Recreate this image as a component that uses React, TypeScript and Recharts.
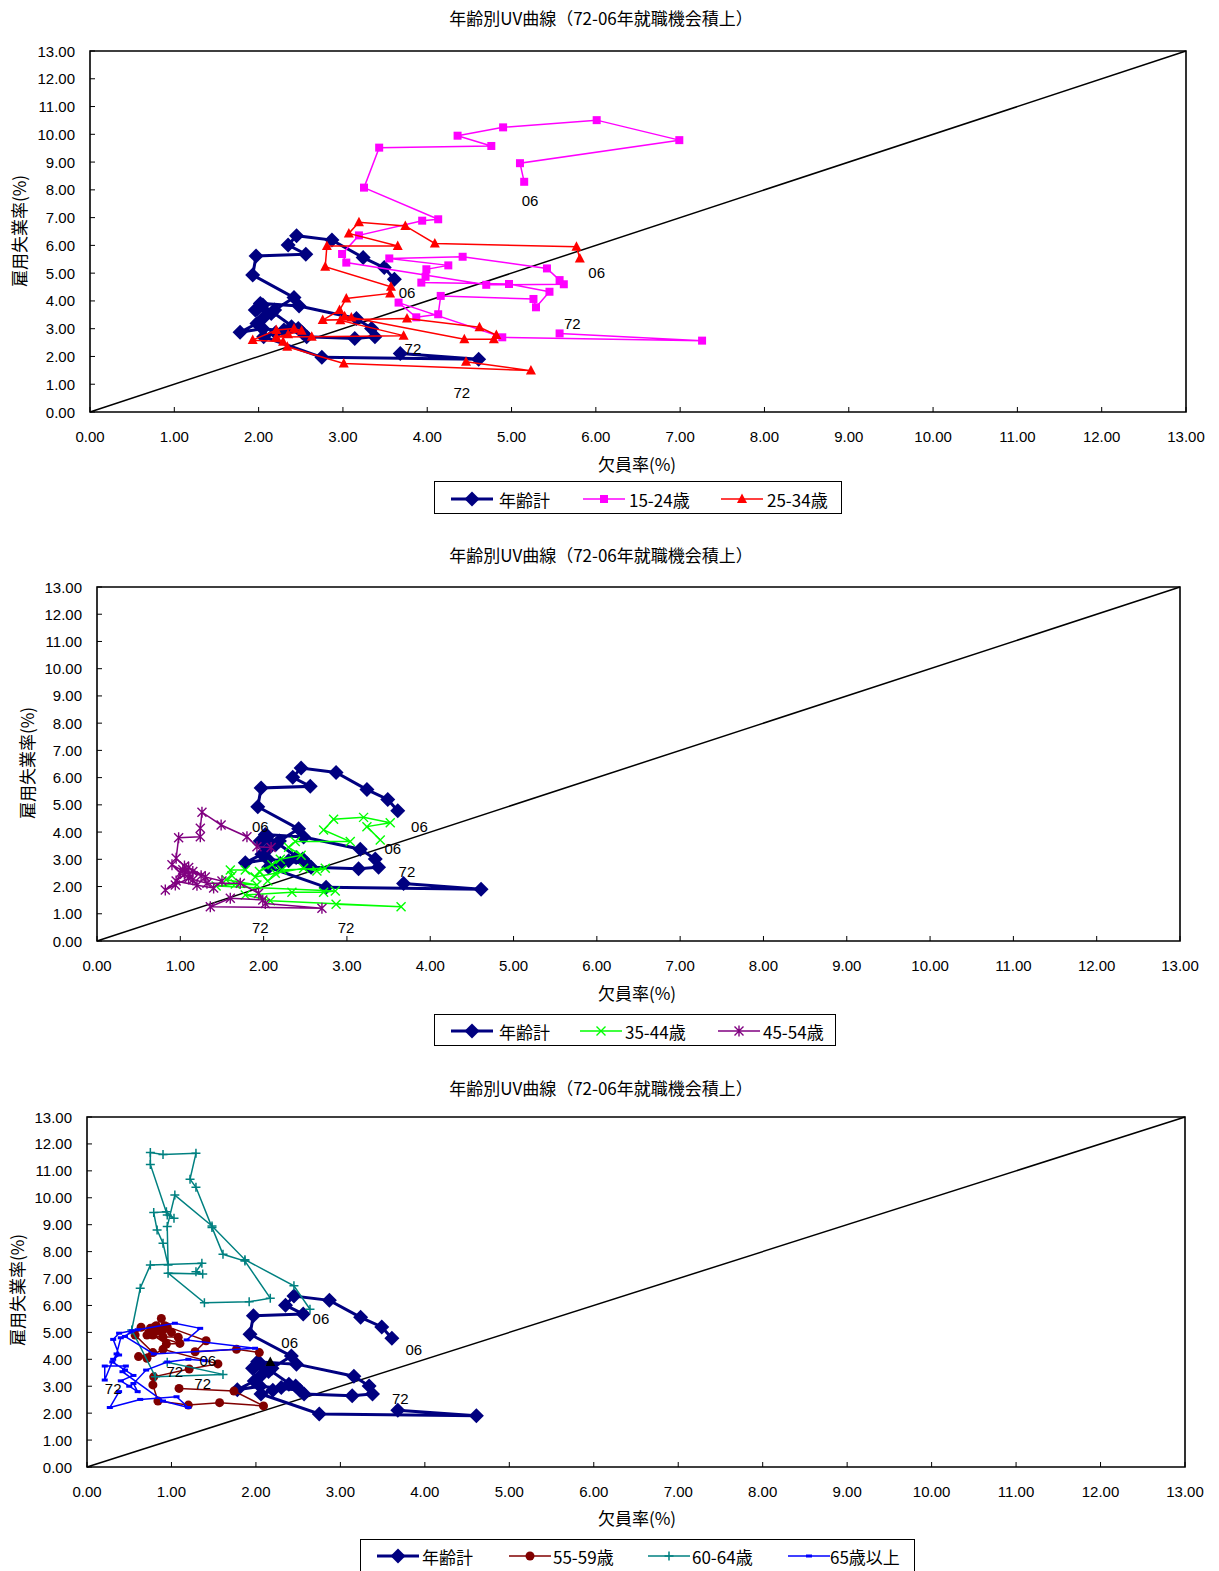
import React from 'react';
import { ScatterChart, Scatter, XAxis, YAxis, ReferenceLine, ReferenceArea } from 'recharts';

// ---------- text ----------
const TITLE = '年齢別UV曲線（72-06年就職機会積上）';
const X_TITLE = '欠員率(%)';
const Y_TITLE = '雇用失業率(%)';
const AXIS_TICKS = [0, 1, 2, 3, 4, 5, 6, 7, 8, 9, 10, 11, 12, 13];
const DIAG = [0, 13];

// ---------- data (x = 欠員率, y = 雇用失業率), 72 -> 06 ----------
const totalX = [3.68, 4.61, 2.75, 2.06, 2.2, 2.39, 2.47, 2.3, 2.52, 2.05, 1.78, 1.98, 2.06, 2.15, 1.98, 2.05, 2.57, 3.14, 3.38, 3.34, 3.16, 2.48, 2.02, 1.96, 2.19, 2.42, 1.93, 1.97, 2.56, 2.35, 2.45, 2.87, 3.24, 3.49, 3.61];
const totalY = [2.11, 1.9, 1.97, 2.71, 2.85, 3.07, 3.01, 2.95, 2.85, 3.0, 2.87, 3.19, 3.4, 3.55, 3.7, 3.85, 2.71, 2.65, 2.71, 3.01, 3.37, 3.82, 3.91, 3.67, 3.67, 4.12, 4.93, 5.62, 5.68, 6.01, 6.35, 6.19, 5.56, 5.2, 4.78];

const a1524X = [5.57, 7.26, 4.89, 3.66, 3.87, 4.13, 4.16, 5.26, 5.29, 5.45, 4.97, 3.93, 3.98, 3.99, 4.25, 3.55, 4.42, 5.42, 5.57, 5.62, 4.7, 3.04, 2.99, 3.19, 3.94, 4.13, 3.25, 3.43, 4.76, 4.36, 4.9, 6.01, 6.99, 5.1, 5.15];
const a1524Y = [2.83, 2.57, 2.69, 3.94, 3.41, 3.52, 4.18, 4.07, 3.77, 4.33, 4.61, 4.66, 4.87, 5.14, 5.28, 5.53, 5.59, 5.17, 4.75, 4.6, 4.58, 5.38, 5.69, 6.36, 6.89, 6.94, 8.08, 9.52, 9.58, 9.95, 10.25, 10.51, 9.79, 8.96, 8.29];

const a2534X = [4.46, 5.23, 3.01, 2.34, 2.29, 1.93, 2.21, 2.42, 2.51, 2.35, 2.21, 2.63, 3.72, 2.97, 3.02, 3.1, 4.44, 4.79, 4.82, 4.62, 3.76, 2.76, 2.96, 3.04, 3.56, 3.57, 2.79, 2.81, 3.65, 3.07, 3.19, 3.74, 4.09, 5.77, 5.81];
const a2534Y = [1.81, 1.49, 1.75, 2.35, 2.53, 2.59, 2.95, 3.01, 2.93, 2.8, 2.7, 2.71, 2.75, 3.3, 3.45, 3.4, 2.62, 2.62, 2.77, 3.05, 3.37, 3.31, 3.67, 4.09, 4.27, 4.51, 5.23, 5.98, 5.98, 6.43, 6.83, 6.7, 6.07, 5.95, 5.53];

const a3544X = [2.87, 3.65, 2.08, 1.78, 2.34, 2.72, 2.86, 1.43, 1.66, 1.92, 1.55, 1.62, 1.6, 1.78, 1.9, 2.14, 2.48, 2.64, 2.74, 2.22, 2.05, 1.95, 2.1, 2.2, 2.45, 2.3, 2.38, 3.04, 2.72, 2.84, 3.2, 3.52, 3.24, 3.4];
const a3544Y = [1.35, 1.26, 1.48, 1.69, 1.79, 1.79, 1.84, 2.02, 2.09, 2.06, 2.25, 2.4, 2.61, 2.61, 2.35, 2.49, 2.67, 2.57, 2.67, 2.61, 2.2, 2.55, 2.8, 3.0, 3.15, 3.44, 3.65, 3.65, 4.08, 4.47, 4.54, 4.34, 4.2, 3.71];

const a4554X = [2.02, 2.7, 1.36, 1.6, 1.99, 1.94, 1.72, 1.32, 1.1, 0.94, 0.82, 1.05, 1.15, 1.25, 1.03, 0.95, 1.2, 1.4, 1.5, 1.3, 1.1, 1.0, 0.9, 1.1, 1.15, 1.05, 0.95, 0.98, 1.24, 1.24, 1.26, 1.49, 1.8, 1.92, 2.09];
const a4554Y = [1.38, 1.2, 1.26, 1.57, 1.51, 1.75, 2.12, 2.12, 2.3, 2.06, 1.87, 2.45, 2.55, 2.4, 2.62, 2.2, 2.05, 1.95, 2.2, 2.35, 2.7, 2.5, 2.8, 2.45, 2.25, 2.75, 3.04, 3.79, 3.83, 4.14, 4.73, 4.26, 3.83, 3.46, 3.43];

const a5559X = [1.09, 1.74, 2.09, 1.57, 1.2, 0.84, 0.78, 0.79, 1.21, 1.55, 0.9, 0.71, 0.61, 0.78, 0.57, 0.64, 0.94, 1.1, 0.78, 0.71, 0.75, 0.82, 0.88, 0.95, 0.9, 0.9, 1.08, 1.0, 0.85, 0.8, 0.92, 1.41, 1.28, 1.77, 2.04];
const a5559Y = [2.92, 2.82, 2.27, 2.39, 2.3, 2.45, 3.05, 3.35, 3.64, 3.83, 4.37, 4.04, 4.1, 4.25, 4.9, 5.19, 4.57, 4.59, 4.9, 4.9, 5.15, 5.25, 5.52, 5.2, 5.1, 4.84, 4.82, 5.0, 5.05, 5.2, 5.25, 4.69, 4.28, 4.37, 4.25];

const a6064X = [0.95, 1.61, 0.81, 0.53, 0.63, 0.75, 1.36, 1.29, 1.37, 0.96, 1.39, 1.92, 2.17, 1.87, 1.61, 1.48, 1.29, 1.22, 1.29, 0.9, 0.75, 0.75, 0.95, 1.03, 0.94, 0.79, 0.83, 0.9, 0.96, 0.95, 1.04, 1.48, 1.87, 2.45, 2.64];
const a6064Y = [3.89, 3.44, 3.35, 5.09, 6.64, 7.5, 7.57, 7.25, 7.17, 7.2, 6.1, 6.14, 6.27, 7.65, 7.9, 8.9, 10.39, 10.69, 11.65, 11.61, 11.68, 11.24, 9.36, 9.24, 9.48, 9.45, 8.8, 8.31, 7.5, 8.93, 10.1, 8.95, 7.7, 6.73, 5.86];

const a65X = [0.38, 0.27, 0.63, 1.06, 1.2, 0.9, 0.42, 0.46, 0.21, 0.21, 0.31, 0.38, 0.31, 0.38, 0.53, 0.45, 0.79, 1.99, 1.18, 1.34, 1.04, 0.6, 0.4, 0.35, 0.3, 0.45, 0.55, 0.4, 0.5, 0.6, 0.55, 0.7, 0.95, 1.2, 1.4];
const a65Y = [2.8, 2.21, 2.51, 2.61, 2.21, 2.45, 3.54, 3.75, 3.75, 3.23, 4.0, 4.16, 4.74, 4.97, 5.06, 4.85, 4.2, 4.41, 4.72, 5.15, 5.34, 5.1, 4.8, 4.2, 3.9, 3.6, 3.4, 3.2, 3.0, 2.8, 3.1, 3.6, 3.9, 4.0, 3.95];

const strayX = [2.17];
const strayY = [3.9];

// year annotations
const labels1 = [
  { t: '06', x: 5.22, y: 7.6 }, { t: '06', x: 6.01, y: 5.04 }, { t: '06', x: 3.76, y: 4.32 },
  { t: '72', x: 5.72, y: 3.2 }, { t: '72', x: 4.41, y: 0.72 }, { t: '72', x: 3.83, y: 2.3 },
];
const labels2 = [
  { t: '06', x: 1.96, y: 4.22 }, { t: '06', x: 3.87, y: 4.22 }, { t: '06', x: 3.55, y: 3.38 },
  { t: '72', x: 3.72, y: 2.57 }, { t: '72', x: 1.96, y: 0.48 }, { t: '72', x: 2.99, y: 0.48 },
];
const labels3 = [
  { t: '06', x: 2.77, y: 5.53 }, { t: '06', x: 2.4, y: 4.61 }, { t: '06', x: 1.43, y: 3.94 }, { t: '06', x: 3.87, y: 4.35 },
  { t: '72', x: 3.71, y: 2.53 }, { t: '72', x: 1.37, y: 3.12 }, { t: '72', x: 1.04, y: 3.53 }, { t: '72', x: 0.31, y: 2.9 },
];

const pts = (xs: number[], ys: number[]) => xs.map((x, i) => ({ x, y: ys[i] }));

// ---------- styling ----------
const NUM_FONT = "'Liberation Sans', Arial, sans-serif";
const CJK_FONT = "'Noto Sans CJK JP', sans-serif";

type Kind = 'diamond' | 'square' | 'triangle' | 'x' | 'star' | 'circle' | 'plus' | 'dash';

function marker(kind: Kind, cx: number, cy: number, color: string) {
  switch (kind) {
    case 'diamond':
      return <polygon points={`${cx},${cy - 7.5} ${cx + 7.5},${cy} ${cx},${cy + 7.5} ${cx - 7.5},${cy}`} fill={color} />;
    case 'square':
      return <rect x={cx - 4} y={cy - 4} width={8} height={8} fill={color} />;
    case 'triangle':
      return <polygon points={`${cx},${cy - 5.5} ${cx + 5},${cy + 4} ${cx - 5},${cy + 4}`} fill={color} />;
    case 'x':
      return <path d={`M${cx - 4.5},${cy - 4.5}L${cx + 4.5},${cy + 4.5}M${cx - 4.5},${cy + 4.5}L${cx + 4.5},${cy - 4.5}`} stroke={color} strokeWidth={1.4} fill="none" />;
    case 'star':
      return <path d={`M${cx - 4.5},${cy - 4.5}L${cx + 4.5},${cy + 4.5}M${cx - 4.5},${cy + 4.5}L${cx + 4.5},${cy - 4.5}M${cx},${cy - 5.5}L${cx},${cy + 5.5}`} stroke={color} strokeWidth={1.4} fill="none" />;
    case 'circle':
      return <circle cx={cx} cy={cy} r={4.5} fill={color} />;
    case 'plus':
      return <path d={`M${cx - 4.5},${cy}L${cx + 4.5},${cy}M${cx},${cy - 4.5}L${cx},${cy + 4.5}`} stroke={color} strokeWidth={1.5} fill="none" />;
    case 'dash':
    default:
      return <rect x={cx - 3} y={cy - 1.5} width={6} height={3} fill={color} />;
  }
}

type SeriesDef = { name: string; xs: number[]; ys: number[]; color: string; width: number; kind: Kind; legend?: boolean };

const TOTAL: SeriesDef = { name: '年齢計', xs: totalX, ys: totalY, color: '#000080', width: 3, kind: 'diamond' };

const PANELS = [
  {
    plot: { l: 90, r: 1186, t: 51, b: 412 },
    title: { x: 601, y: 17 }, xTitle: { x: 637, y: 463 }, yTitle: { x: 18, y: 231 },
    box: { l: 434, t: 481, w: 408, h: 33 }, legendY: 499,
    items: [{ lineX: 451, textX: 499 }, { lineX: 583, textX: 629 }, { lineX: 721, textX: 767 }],
    series: [
      TOTAL,
      { name: '15-24歳', xs: a1524X, ys: a1524Y, color: '#FF00FF', width: 1.5, kind: 'square' },
      { name: '25-34歳', xs: a2534X, ys: a2534Y, color: '#FF0000', width: 1.5, kind: 'triangle' },
    ] as SeriesDef[],
    labels: labels1,
  },
  {
    plot: { l: 97, r: 1180, t: 587, b: 941 },
    title: { x: 601, y: 554 }, xTitle: { x: 637, y: 992 }, yTitle: { x: 26, y: 763 },
    box: { l: 434, t: 1014, w: 402, h: 32 }, legendY: 1031,
    items: [{ lineX: 451, textX: 499 }, { lineX: 580, textX: 625 }, { lineX: 718, textX: 763 }],
    series: [
      TOTAL,
      { name: '35-44歳', xs: a3544X, ys: a3544Y, color: '#00FF00', width: 1.5, kind: 'x' },
      { name: '45-54歳', xs: a4554X, ys: a4554Y, color: '#800080', width: 1.5, kind: 'star' },
    ] as SeriesDef[],
    labels: labels2,
  },
  {
    plot: { l: 87, r: 1185, t: 1117, b: 1467 },
    title: { x: 601, y: 1087 }, xTitle: { x: 637, y: 1517 }, yTitle: { x: 16, y: 1290 },
    box: { l: 360, t: 1539, w: 555, h: 40 }, legendY: 1556,
    items: [{ lineX: 377, textX: 422 }, { lineX: 509, textX: 553 }, { lineX: 648, textX: 692 }, { lineX: 788, textX: 830 }],
    series: [
      TOTAL,
      { name: '55-59歳', xs: a5559X, ys: a5559Y, color: '#800000', width: 1.5, kind: 'circle' },
      { name: '60-64歳', xs: a6064X, ys: a6064Y, color: '#008080', width: 1.5, kind: 'plus' },
      { name: '65歳以上', xs: a65X, ys: a65Y, color: '#0000FF', width: 1.5, kind: 'dash' },
      { name: '', xs: strayX, ys: strayY, color: '#000000', width: 0, kind: 'triangle', legend: false },
    ] as SeriesDef[],
    labels: labels3,
  },
];

const XTick = (p: any) => {
  const { x, y, payload } = p;
  return (
    <g>
      <line x1={x} y1={y} x2={x} y2={y - 5} stroke="#000" strokeWidth={1} />
      <text x={x} y={y + 30} textAnchor="middle" fontSize={15} fontFamily={NUM_FONT} fill="#000">
        {Number(payload.value).toFixed(2)}
      </text>
    </g>
  );
};

const YTick = (p: any) => {
  const { x, y, payload } = p;
  return (
    <g>
      <line x1={x} y1={y} x2={x + 5} y2={y} stroke="#000" strokeWidth={1} />
      <text x={x - 15} y={y + 5.5} textAnchor="end" fontSize={15} fontFamily={NUM_FONT} fill="#000">
        {Number(payload.value).toFixed(2)}
      </text>
    </g>
  );
};

const LabelShape = (p: any) => {
  if (p.cx == null || !p.payload) return <g />;
  return (
    <text x={p.cx} y={p.cy + 5.5} textAnchor="middle" fontSize={15} fontFamily={NUM_FONT} fill="#000">
      {p.payload.t}
    </text>
  );
};

function Panel({ cfg }: { cfg: (typeof PANELS)[number] }) {
  const { plot } = cfg;
  const top = plot.t - 20;
  const H = plot.b - plot.t + 60;
  const absText = (x: number, y: number, extra: any = {}) => ({
    position: 'absolute' as const, left: x, top: y, transform: 'translate(-50%,-50%)', whiteSpace: 'nowrap' as const,
    fontFamily: CJK_FONT, fontSize: 17, lineHeight: 1, color: '#000', ...extra,
  });
  const legendSeries = cfg.series.filter((s) => s.legend !== false);
  return (
    <>
      <div style={{ position: 'absolute', left: 0, top }}>
        <ScatterChart width={1219} height={H} margin={{ top: 20, right: 1219 - plot.r, bottom: 0, left: plot.l - 80 }}>
          <XAxis type="number" dataKey="x" domain={[0, 13]} ticks={AXIS_TICKS} interval={0} tick={<XTick />} tickLine={false} axisLine={false} tickSize={0} tickMargin={0} height={40} allowDataOverflow />
          <YAxis type="number" dataKey="y" domain={[0, 13]} ticks={AXIS_TICKS} interval={0} tick={<YTick />} tickLine={false} axisLine={false} tickSize={0} tickMargin={0} width={80} allowDataOverflow />
          <ReferenceArea x1={0} x2={13} y1={0} y2={13} fill="none" fillOpacity={0} stroke="#000" strokeWidth={1.6} />
          {cfg.series.map((s, i) => (
            <Scatter
              key={i}
              data={pts(s.xs, s.ys)}
              line={s.width > 0 ? { stroke: s.color, strokeWidth: s.width } : false}
              lineType="joint"
              isAnimationActive={false}
              shape={(p: any) => (p.cx == null ? <g /> : marker(s.kind, p.cx, p.cy, s.color))}
            />
          ))}
          <ReferenceLine segment={[{ x: DIAG[0], y: DIAG[0] }, { x: DIAG[1], y: DIAG[1] }]} stroke="#000" strokeWidth={1.5} />
          <Scatter data={cfg.labels} isAnimationActive={false} shape={LabelShape} />
        </ScatterChart>
      </div>
      <div style={absText(cfg.title.x, cfg.title.y)}>{TITLE}</div>
      <div style={absText(cfg.xTitle.x, cfg.xTitle.y)}>{X_TITLE}</div>
      <div style={absText(cfg.yTitle.x, cfg.yTitle.y, { transform: 'translate(-50%,-50%) rotate(-90deg)' })}>{Y_TITLE}</div>
      <div style={{ position: 'absolute', left: cfg.box.l, top: cfg.box.t, width: cfg.box.w, height: cfg.box.h, border: '1.5px solid #000', boxSizing: 'border-box', background: '#fff' }} />
      {legendSeries.map((s, i) => (
        <React.Fragment key={i}>
          <svg style={{ position: 'absolute', left: cfg.items[i].lineX, top: cfg.legendY - 10 }} width={42} height={20}>
            <line x1={0} y1={10} x2={42} y2={10} stroke={s.color} strokeWidth={s.width} />
            {marker(s.kind, 21, 10, s.color)}
          </svg>
          <div style={{ ...absText(cfg.items[i].textX, cfg.legendY), transform: 'translateY(-50%)' }}>{s.name}</div>
        </React.Fragment>
      ))}
    </>
  );
}

export default function App() {
  return (
    <div style={{ position: 'absolute', left: 0, top: 0, width: 1219, height: 1571, background: '#fff', overflow: 'hidden' }}>
      {PANELS.map((cfg, i) => (
        <Panel key={i} cfg={cfg} />
      ))}
    </div>
  );
}
